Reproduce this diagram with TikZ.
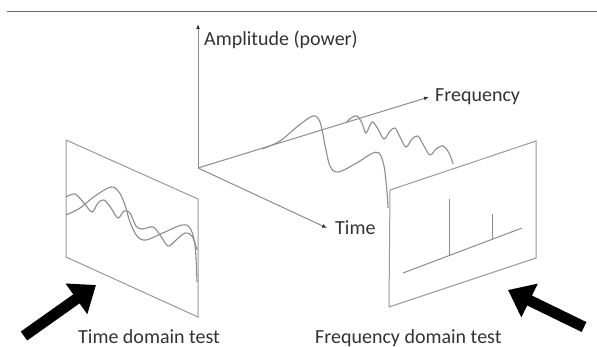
\documentclass[tikz,border=0pt]{standalone}
\usepackage{fontspec}
\setmainfont{Carlito}
\usetikzlibrary{arrows.meta,positioning}

\begin{document}
\begin{tikzpicture}[
  x=1pt, y=-1pt,
  font=\fontsize{20}{24}\selectfont,
  >=Latex,
  axis/.style={draw=black!45, line width=1pt, -{Latex[length=5pt,width=4pt,black!80]}},
  panel/.style={draw=black!40, line width=1pt, line join=miter},
  wave/.style={draw=black!45, line width=1.1pt, smooth, tension=0.55},
  spike/.style={draw=black!45, line width=1pt},
  lbl/.style={inner sep=0pt, text=black!80},
  bigarr/.style={line width=11pt, -{Triangle[length=24pt,width=36pt]}, black}
]
\useasboundingbox (0,0) rectangle (597,347);

% top rule
\draw[black!60, line width=1.2pt] (7,11.5) -- (597,11.5);

% axes
\coordinate (O) at (198,168);
\coordinate (amp) at (198,24);
\coordinate (freq) at (429,97);
\coordinate (time) at (327,228);
\draw[axis] (O) -- (amp);
\draw[axis] (O) -- (freq);
\draw[axis] (O) -- (time);

\node[lbl, anchor=west] (amplbl) at (204,40) {Amplitude (power)};
\node[lbl, right=6pt of freq] (freqlbl) {Frequency};
\node[lbl, right=8pt of time] (timelbl) {Time};

% waves standing on the frequency axis
\draw[wave] plot coordinates {(262,149) (280,141) (298,126) (313,116) (320,122)
  (325,145) (330,166) (338,172) (355,164) (371,154) (379,153) (384,166) (387,192) (388,208)};
\draw[wave] plot coordinates {(346,123) (351,118) (357,116) (362,123) (366,133)
  (372,122) (378,129) (384,139) (390,131) (395,128) (400,137) (406,147) (412,139)
  (418,136) (424,146) (430,155) (436,149) (443,146) (449,153) (453,164)};

% time domain panel
\draw[panel] (66,140) -- (198,199) -- (198,317) -- (66,257) -- cycle;
\draw[wave] plot coordinates {(66,215) (80,208) (95,196) (111,187) (119,192)
  (125,205) (130,222) (137,236) (146,240) (165,232) (182,225) (190,228) (195,245) (197,282)};
\draw[wave] plot coordinates {(66,197) (75,194) (84,203) (92,212) (98,203)
  (104,200) (111,208) (118,218) (124,211) (130,213) (136,226) (142,229) (153,227)
  (160,235) (168,246) (175,241) (185,233) (192,236) (197,250)};

% frequency domain panel
\draw[panel] (390,190) -- (536,141) -- (536,258) -- (389,307) -- cycle;
\coordinate (b1) at (403,273);
\coordinate (b2) at (522,228);
\draw[spike] (b1) -- (b2);
\draw[spike] (449,255.6) -- (449,199);
\draw[spike] (492,239.3) -- (492,214);

% big arrows
\coordinate (lt) at (24,336);
\coordinate (lh) at (96,285);
\coordinate (rt) at (584,327);
\coordinate (rh) at (508,290);
\draw[bigarr] (lt) -- (lh);
\draw[bigarr] (rt) -- (rh);

\node[lbl, anchor=base west] (tdlbl) at (78,343) {Time domain test};
\node[lbl, anchor=base west] (fdlbl) at (315,343) {Frequency domain test};

\end{tikzpicture}
\end{document}
